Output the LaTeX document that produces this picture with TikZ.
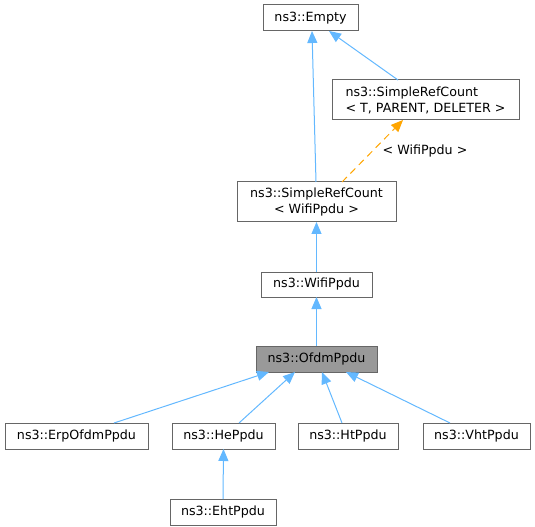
\documentclass[tikz,border=0pt]{standalone}
\usepackage{fontspec}
\setmainfont{DejaVu Sans}
\usetikzlibrary{arrows.meta,calc}
\definecolor{edgeblue}{HTML}{63B8FF}
\definecolor{tmplorange}{HTML}{FFA500}
\definecolor{boxgray}{HTML}{666666}
\definecolor{focusgray}{HTML}{999999}

\begin{document}
\begin{tikzpicture}[x=0.75pt,y=-0.75pt,
	cls/.style={draw=boxgray,fill=white,line width=0.75pt,inner sep=0,outer sep=0,font=\fontsize{9.5}{12}\selectfont},
	inh/.style={draw=edgeblue,line width=0.75pt,-{Triangle[length=9pt,width=7.5pt]}},
	tmpl/.style={draw=tmplorange,line width=0.75pt,dash pattern=on 5.25pt off 3.75pt,-{Triangle[length=9pt,width=7.5pt]}}]
	\useasboundingbox (0,0) rectangle (535,527);
	\node[cls,minimum width=95*0.75pt,minimum height=26*0.75pt] (empty) at (310.5,18) {ns3::Empty};
	\node[cls,minimum width=187*0.75pt,minimum height=40*0.75pt,align=left] (srct) at (425.5,100) {ns3::SimpleRefCount\\< T, PARENT, DELETER >};
	\node[cls,minimum width=159*0.75pt,minimum height=40*0.75pt,align=center] (srcw) at (316.5,202) {ns3::SimpleRefCount\\< WifiPpdu >};
	\node[cls,minimum width=111*0.75pt,minimum height=25*0.75pt] (wifi) at (316.5,284.5) {ns3::WifiPpdu};
	\node[cls,fill=focusgray,minimum width=121*0.75pt,minimum height=26*0.75pt] (ofdm) at (316.5,359) {ns3::OfdmPpdu};
	\node[cls,minimum width=143*0.75pt,minimum height=26*0.75pt] (erp) at (76.5,436) {ns3::ErpOfdmPpdu};
	\node[cls,minimum width=103*0.75pt,minimum height=26*0.75pt] (he) at (223.5,436) {ns3::HePpdu};
	\node[cls,minimum width=100*0.75pt,minimum height=26*0.75pt] (ht) at (348,436) {ns3::HtPpdu};
	\node[cls,minimum width=107*0.75pt,minimum height=26*0.75pt] (vht) at (476.5,436) {ns3::VhtPpdu};
	\node[cls,minimum width=106*0.75pt,minimum height=26*0.75pt] (eht) at (223,512) {ns3::EhtPpdu};
	\node[font=\fontsize{9.5}{12}\selectfont,inner sep=0] (lbl) at (425,151) {< WifiPpdu >};
	\draw[inh] ($(srcw.north)+(-0.5,0)$) -- ($(empty.south)+(1.5,0)$);
	\draw[inh] ($(srct.north)+(-27.5,0)$) -- ($(empty.south)+(18.5,0)$);
	\draw[tmpl] ($(srcw.north)+(25.5,0)$) -- ($(srct.south)+(-22.5,0)$);
	\draw[inh] (wifi.north) -- (srcw.south);
	\draw[inh] (ofdm.north) -- (wifi.south);
	\draw[inh] ($(erp.north)+(37.5,0)$) -- ($(ofdm.south)+(-47.5,0)$);
	\draw[inh] ($(he.north)+(15.5,0)$) -- ($(ofdm.south)+(-21.5,0)$);
	\draw[inh] ($(ht.north)+(-6,0)$) -- ($(ofdm.south)+(5.5,0)$);
	\draw[inh] ($(vht.north)+(-26.5,0)$) -- ($(ofdm.south)+(29.5,0)$);
	\draw[inh] (eht.north) -- (he.south);
\end{tikzpicture}
\end{document}
